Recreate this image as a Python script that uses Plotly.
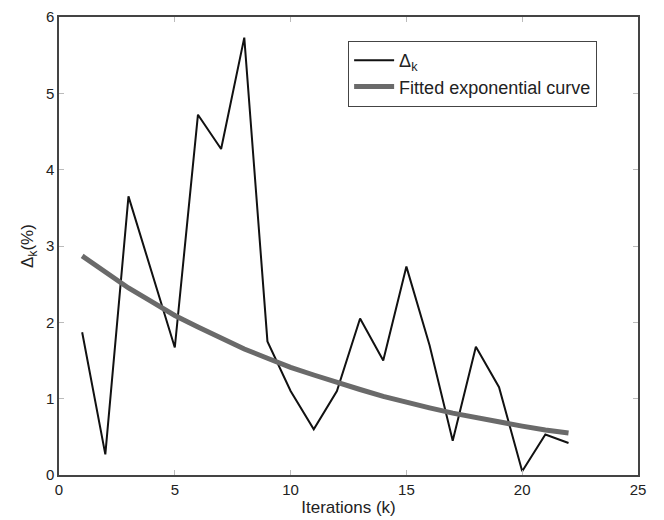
import plotly.graph_objects as go

k = list(range(1, 23))
delta_k = [1.87, 0.27, 3.65, 2.65, 1.67, 4.72, 4.27, 5.73, 1.75, 1.10, 0.60,
           1.10, 2.05, 1.50, 2.73, 1.70, 0.45, 1.68, 1.15, 0.05, 0.53, 0.42]
fitted = [2.87, 2.65, 2.45, 2.27, 2.09, 1.94, 1.79, 1.65, 1.53, 1.41, 1.31,
          1.21, 1.12, 1.03, 0.95, 0.88, 0.81, 0.75, 0.70, 0.64, 0.59, 0.55]
x_ticks = [0, 5, 10, 15, 20, 25]
y_ticks = [0, 1, 2, 3, 4, 5, 6]

fig = go.Figure()
fig.add_trace(go.Scatter(x=k, y=delta_k, mode="lines", name="Δ<sub>k</sub>",
                         line=dict(color="#111111", width=2)))
fig.add_trace(go.Scatter(x=k, y=fitted, mode="lines", name="Fitted exponential curve",
                         line=dict(color="#6a6a6a", width=5)))

fam = "Liberation Sans, Arial, sans-serif"
tick_font = dict(family=fam, size=15, color="#222222")
title_font = dict(family=fam, size=17, color="#222222")
legend_font = dict(family=fam, size=18, color="#222222")
axis_common = dict(showgrid=False, zeroline=False, showline=True, linecolor="#444444",
                   linewidth=1.5, mirror="ticks", ticks="inside", ticklen=5,
                   tickcolor="#bbbbbb", tickfont=tick_font, automargin=False)
fig.update_layout(
    width=664, height=520,
    margin=dict(l=59, r=26, t=17, b=45),
    paper_bgcolor="white", plot_bgcolor="white",
    font=title_font,
    xaxis=dict(range=[0, 25], tickvals=x_ticks,
               title=dict(text="Iterations (k)", font=title_font, standoff=4),
               **axis_common),
    yaxis=dict(range=[0, 6], tickvals=y_ticks,
               title=dict(text="Δ<sub>k</sub>(%)", font=title_font, standoff=8),
               **axis_common),
    legend=dict(x=0.499, y=0.948, xanchor="left", yanchor="top",
                bordercolor="#444444", borderwidth=1.2, bgcolor="white",
                font=legend_font, tracegroupgap=0, itemwidth=40),
    showlegend=True,
)
fig.write_html("out.html")
